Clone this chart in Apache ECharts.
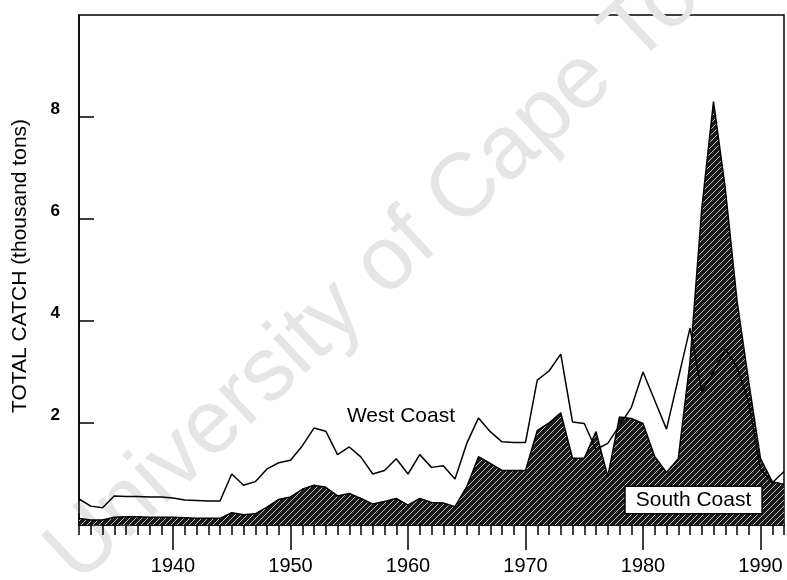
<!DOCTYPE html>
<html>
<head>
<meta charset="utf-8">
<script src="https://cdn.jsdelivr.net/npm/echarts@6/dist/echarts.min.js"></script>
<style>
  html, body { margin: 0; padding: 0; background: #fff; }
  #chart { width: 787px; height: 580px; }
</style>
</head>
<body>
<div id="chart"></div>
<script>
// Annual catch, thousand tons
const years = [
  1932, 1933, 1934, 1935, 1936, 1937, 1938, 1939, 1940, 1941,
  1942, 1943, 1944, 1945, 1946, 1947, 1948, 1949, 1950, 1951,
  1952, 1953, 1954, 1955, 1956, 1957, 1958, 1959, 1960, 1961,
  1962, 1963, 1964, 1965, 1966, 1967, 1968, 1969, 1970, 1971,
  1972, 1973, 1974, 1975, 1976, 1977, 1978, 1979, 1980, 1981,
  1982, 1983, 1984, 1985, 1986, 1987, 1988, 1989, 1990, 1991,
  1992
];
const westCoast = [
  0.51, 0.37, 0.34, 0.57, 0.56, 0.56, 0.55, 0.55, 0.53, 0.49,
  0.48, 0.47, 0.47, 1.00, 0.78, 0.85, 1.10, 1.22, 1.27, 1.55,
  1.90, 1.84, 1.38, 1.53, 1.33, 1.00, 1.07, 1.30, 1.00, 1.38,
  1.13, 1.16, 0.90, 1.60, 2.10, 1.83, 1.63, 1.62, 1.62, 2.84,
  3.02, 3.35, 2.02, 1.99, 1.48, 1.60, 1.95, 2.30, 3.00, 2.44,
  1.88, 2.87, 3.86, 2.62, 3.00, 3.45, 3.10, 2.40, 1.10, 0.83,
  1.05
];
const southCoast = [
  0.13, 0.10, 0.10, 0.15, 0.16, 0.16, 0.15, 0.15, 0.15, 0.14,
  0.13, 0.13, 0.13, 0.24, 0.20, 0.22, 0.35, 0.50, 0.55, 0.70,
  0.78, 0.74, 0.57, 0.62, 0.52, 0.41, 0.46, 0.52, 0.39, 0.52,
  0.44, 0.43, 0.36, 0.75, 1.34, 1.21, 1.07, 1.07, 1.07, 1.85,
  2.00, 2.20, 1.31, 1.31, 1.83, 0.95, 2.12, 2.09, 1.99, 1.34,
  1.03, 1.30, 3.20, 6.20, 8.30, 6.60, 4.40, 2.80, 1.30, 0.85,
  0.80
];
const decadeTicks = [1940, 1950, 1960, 1970, 1980, 1990];
const catchTicks = [2, 4, 6, 8];

const FONT = '"Liberation Sans", Arial, Helvetica, sans-serif';

// Dark fill with fine diagonal white hatching
function hatchPattern() {
  const c = document.createElement('canvas');
  c.width = 6; c.height = 6;
  const g = c.getContext('2d');
  g.fillStyle = '#1a1a1a';
  g.fillRect(0, 0, 6, 6);
  g.strokeStyle = 'rgba(255,255,255,0.72)';
  g.lineWidth = 1;
  g.beginPath();
  g.moveTo(-1, 7); g.lineTo(7, -1);
  g.moveTo(-1, 1); g.lineTo(1, -1);
  g.moveTo(5, 7); g.lineTo(7, 5);
  g.stroke();
  return c;
}

const pairs = (vals) => years.map((y, i) => [y, vals[i]]);
const ink = { color: '#000', width: 1.5 };

const chart = echarts.init(document.getElementById('chart'), null, { renderer: 'canvas' });
chart.setOption({
  animation: false,
  textStyle: { fontFamily: FONT },
  grid: {
    left: 79, right: 2, top: 15, bottom: 55,
    show: true, borderColor: '#000', borderWidth: 1.5, backgroundColor: 'transparent'
  },
  xAxis: [
    {
      // yearly ticks
      type: 'value', min: 1932, max: 1992, interval: 1, position: 'bottom',
      axisLine: { show: true, lineStyle: ink },
      axisTick: { show: true, length: 10, customValues: years, lineStyle: ink },
      axisLabel: { show: true, customValues: years, formatter: () => '' },
      splitLine: { show: false }
    },
    {
      // decade ticks and labels
      type: 'value', min: 1932, max: 1992, position: 'bottom', offset: 0,
      axisLine: { show: false },
      axisTick: { show: true, length: 25, customValues: decadeTicks, lineStyle: ink },
      axisLabel: {
        show: true, customValues: decadeTicks, margin: 31,
        fontSize: 20, color: '#000', fontFamily: FONT,
        formatter: (v) => String(v)
      },
      splitLine: { show: false }
    }
  ],
  yAxis: {
    type: 'value', min: 0, max: 10, interval: 2,
    axisLine: { show: true, lineStyle: ink },
    axisTick: { show: true, inside: true, length: 15, customValues: catchTicks, lineStyle: ink },
    axisLabel: {
      customValues: catchTicks, margin: 19, fontSize: 17, fontWeight: 'bold',
      color: '#000', fontFamily: FONT, verticalAlign: 'bottom', lineHeight: 15
    },
    splitLine: { show: false }
  },
  graphic: [
    {
      type: 'text', silent: true, z: 0,
      x: 92, y: 600, rotation: 43 * Math.PI / 180,
      style: {
        text: 'University of Cape Town', fontSize: 90, fontFamily: FONT,
        fill: '#e5e5e5', textAlign: 'left', textVerticalAlign: 'bottom',
        align: 'left', verticalAlign: 'bottom'
      }
    },
    {
      type: 'text', silent: true, z: 10,
      x: 20, y: 266, rotation: Math.PI / 2,
      style: {
        text: 'TOTAL CATCH (thousand tons)', fontSize: 21, fontFamily: FONT,
        fill: '#000', textAlign: 'center', textVerticalAlign: 'middle',
        align: 'center', verticalAlign: 'middle'
      }
    }
  ],
  series: [
    {
      name: 'South Coast', type: 'line', xAxisIndex: 0, yAxisIndex: 0,
      data: pairs(southCoast), symbol: 'none', z: 2,
      lineStyle: ink,
      areaStyle: { color: { image: hatchPattern(), repeat: 'repeat' }, opacity: 1 },
      markPoint: {
        silent: true, symbol: 'rect', symbolSize: 1,
        itemStyle: { color: 'rgba(0,0,0,0)' },
        label: {
          show: true, position: 'inside', formatter: 'South Coast',
          fontSize: 21, color: '#000', fontFamily: FONT,
          backgroundColor: '#fff', borderColor: '#000', borderWidth: 1.5,
          padding: [3, 10, 2, 10]
        },
        data: [{ coord: [1984.3, 0.49] }]
      }
    },
    {
      name: 'West Coast', type: 'line', xAxisIndex: 0, yAxisIndex: 0,
      data: pairs(westCoast), symbol: 'none', z: 3,
      lineStyle: ink,
      markPoint: {
        silent: true, symbol: 'rect', symbolSize: 1,
        itemStyle: { color: 'rgba(0,0,0,0)' },
        label: {
          show: true, position: 'inside', formatter: 'West Coast',
          fontSize: 21, color: '#000', fontFamily: FONT
        },
        data: [{ coord: [1959.4, 2.13] }]
      }
    }
  ]
});
</script>
</body>
</html>
